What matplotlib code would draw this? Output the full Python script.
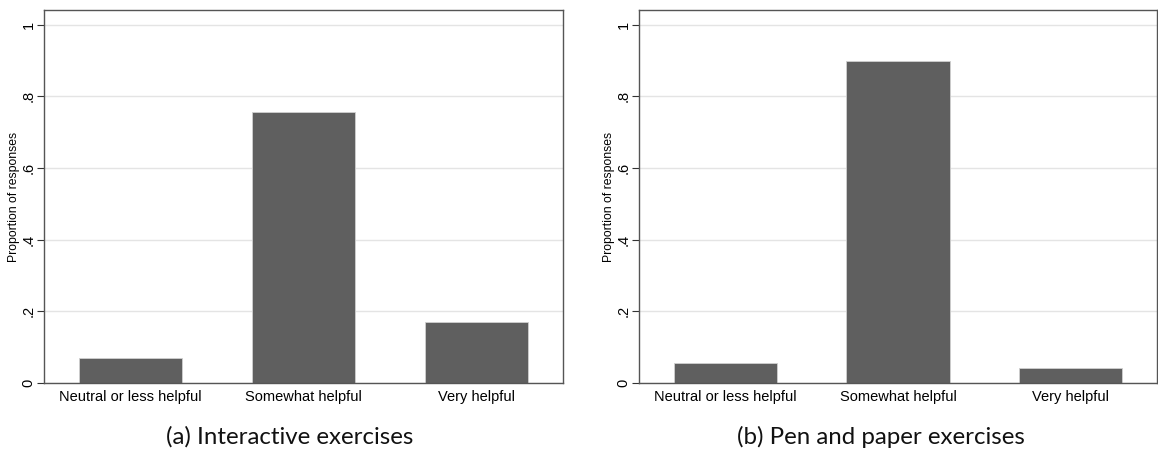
import matplotlib.pyplot as plt
import numpy as np

categories = ["Neutral or less helpful", "Somewhat helpful", "Very helpful"]
interactive = [0.071, 0.757, 0.170]
pen_paper = [0.057, 0.900, 0.041]
captions = ["(a) Interactive exercises", "(b) Pen and paper exercises"]
yticks = [0, 0.2, 0.4, 0.6, 0.8, 1.0]
ytick_labels = ["0", ".2", ".4", ".6", ".8", "1"]

plt.rcParams["font.family"] = ["Liberation Sans", "DejaVu Sans"]

fig = plt.figure(figsize=(11.58, 4.5), dpi=100)
ax_a = fig.add_axes([44 / 1158, 67 / 450, 519 / 1158, 373 / 450])
ax_b = fig.add_axes([639 / 1158, 67 / 450, 518 / 1158, 373 / 450])

x = np.arange(len(categories))
for ax, vals in [(ax_a, interactive), (ax_b, pen_paper)]:
    ax.set_axisbelow(True)
    ax.yaxis.grid(True, color="#e4e4e4", linewidth=1.0)
    ax.bar(x, vals, width=0.6, color="#5f5f5f", edgecolor="#d0d0d0", linewidth=0.6)
    ax.set_xlim(-0.5, 2.5)
    ax.set_ylim(0, 1.041)
    ax.set_xticks(x)
    ax.set_xticklabels(categories, fontsize=10.5)
    ax.tick_params(axis="x", length=0, pad=5)
    ax.set_yticks(yticks)
    ax.set_yticklabels(ytick_labels, rotation=90, va="center", fontsize=10.5)
    ax.tick_params(axis="y", length=5, width=0.8, color="#333333", pad=1)
    ax.set_ylabel("Proportion of responses", fontsize=8.8, labelpad=1)
    for side, sp in ax.spines.items():
        sp.set_color("#555555")
        sp.set_linewidth(1.0)

for cx, text in zip([289.5 / 1158, 881 / 1158], captions):
    fig.text(cx, 1 - 437 / 450, text, ha="center", va="center", fontsize=17.3,
             family=["Lato", "DejaVu Sans"], color="#111111")

fig.savefig("out.png", dpi=100)
